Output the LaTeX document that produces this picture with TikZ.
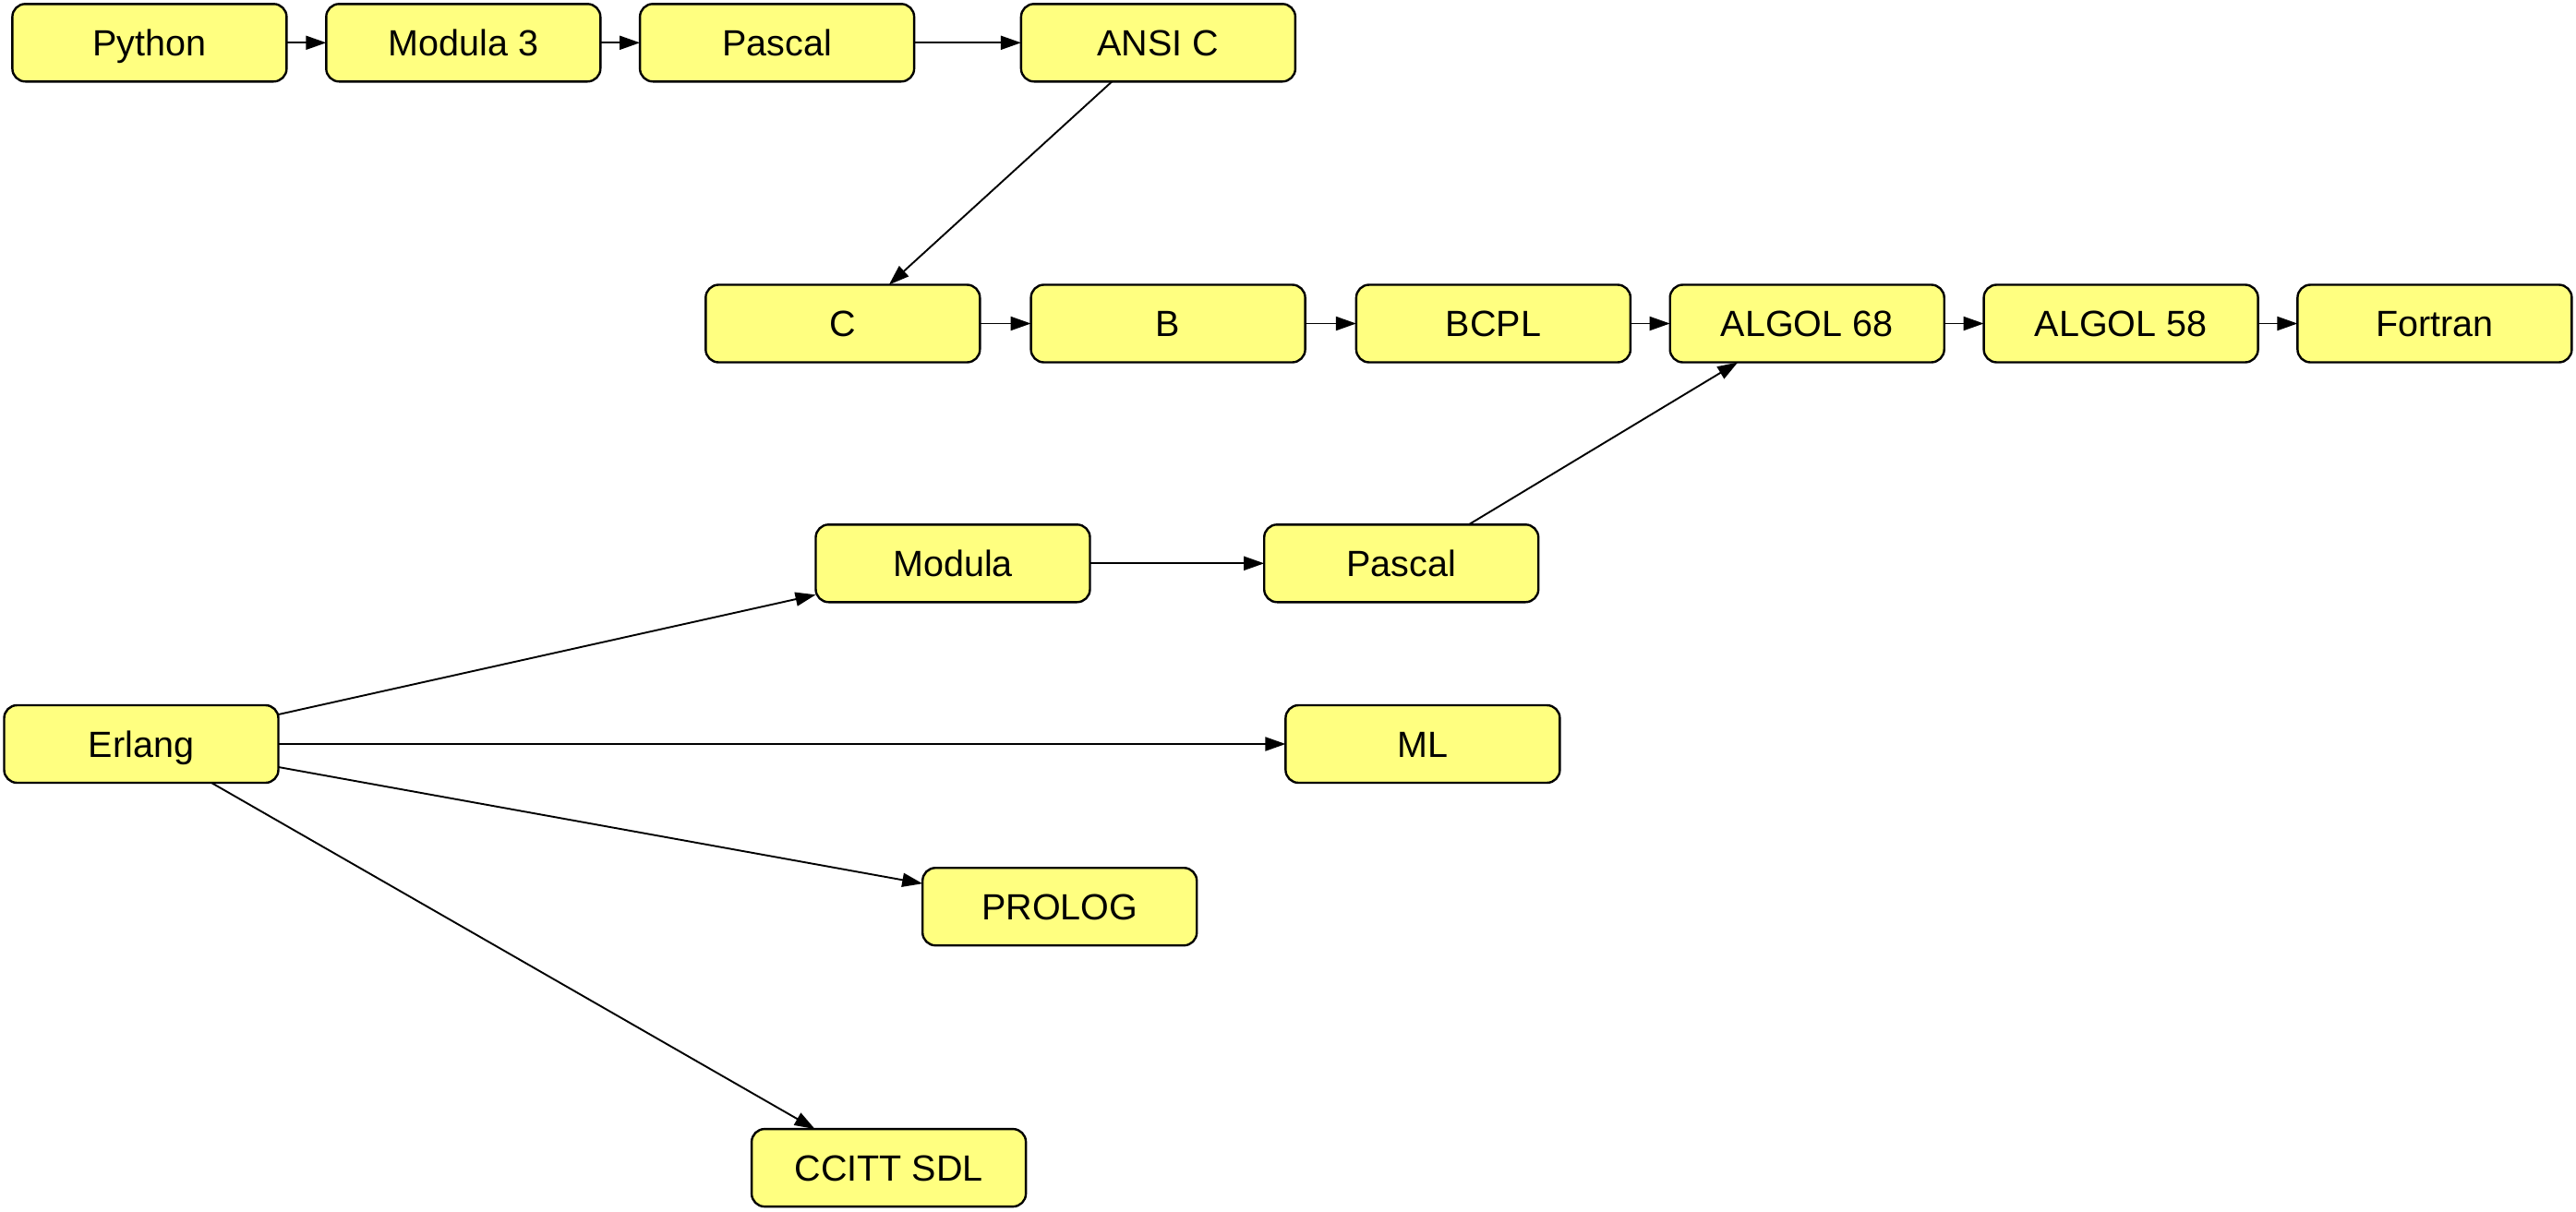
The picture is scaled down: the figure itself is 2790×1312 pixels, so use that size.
\documentclass[tikz,border=0pt]{standalone}
\usepackage{fontspec}
\setmainfont{Liberation Sans}
\usetikzlibrary{arrows.meta}
\definecolor{boxfill}{RGB}{255,255,128}
\tikzset{
  lang/.style={draw=black, fill=boxfill, line width=2.4pt, rounded corners=14pt,
    minimum width=297pt, minimum height=84pt, inner sep=0pt, outer sep=0pt,
    text height=28.5pt, text depth=0pt,
    font=\fontsize{39.5}{47}\selectfont},
  edge/.style={line width=1.9pt, -{Triangle[length=22pt,width=15pt]}}
}
\begin{document}
\begin{tikzpicture}[x=1pt,y=-1pt]
\useasboundingbox (0,0) rectangle (2790,1312);
\node[lang] (python) at (161.9,46.3) {Python};
\node[lang] (modula3) at (501.8,46.3) {Modula 3};
\node[lang] (pascal1) at (841.6,46.3) {Pascal};
\node[lang] (ansic) at (1254.4,46.3) {ANSI C};
\node[lang] (c) at (912.8,350.5) {C};
\node[lang] (b) at (1265.1,350.5) {B};
\node[lang] (bcpl) at (1617.4,350.5) {BCPL};
\node[lang] (algol68) at (1957.2,350.5) {ALGOL 68};
\node[lang] (algol58) at (2297.1,350.5) {ALGOL 58};
\node[lang] (fortran) at (2636.9,350.5) {Fortran};
\node[lang] (modula) at (1032,610.3) {Modula};
\node[lang] (pascal2) at (1517.7,610.3) {Pascal};
\node[lang] (erlang) at (153,806) {Erlang};
\node[lang] (ml) at (1540.9,806) {ML};
\node[lang] (prolog) at (1147.7,982.2) {PROLOG};
\node[lang] (ccitt) at (962.6,1265.1) {CCITT SDL};

\draw[edge] (python) -- (modula3);
\draw[edge] (modula3) -- (pascal1);
\draw[edge] (pascal1) -- (ansic);
\draw[edge] ([xshift=-50pt]ansic.south) -- ([xshift=50pt]c.north);
\draw[edge] (c) -- (b);
\draw[edge] (b) -- (bcpl);
\draw[edge] (bcpl) -- (algol68);
\draw[edge] (algol68) -- (algol58);
\draw[edge] (algol58) -- (fortran);
\draw[edge] (modula) -- (pascal2);
\draw[edge] ([xshift=73pt]pascal2.north) -- ([xshift=-75pt]algol68.south);
\draw[edge] ([yshift=32pt]erlang.east) -- ([yshift=-34pt]modula.west);
\draw[edge] (erlang) -- (ml);
\draw[edge] ([yshift=-25pt]erlang.east) -- ([yshift=25pt]prolog.west);
\draw[edge] ([xshift=76pt]erlang.south) -- ([xshift=-80pt]ccitt.north);
\end{tikzpicture}
\end{document}
